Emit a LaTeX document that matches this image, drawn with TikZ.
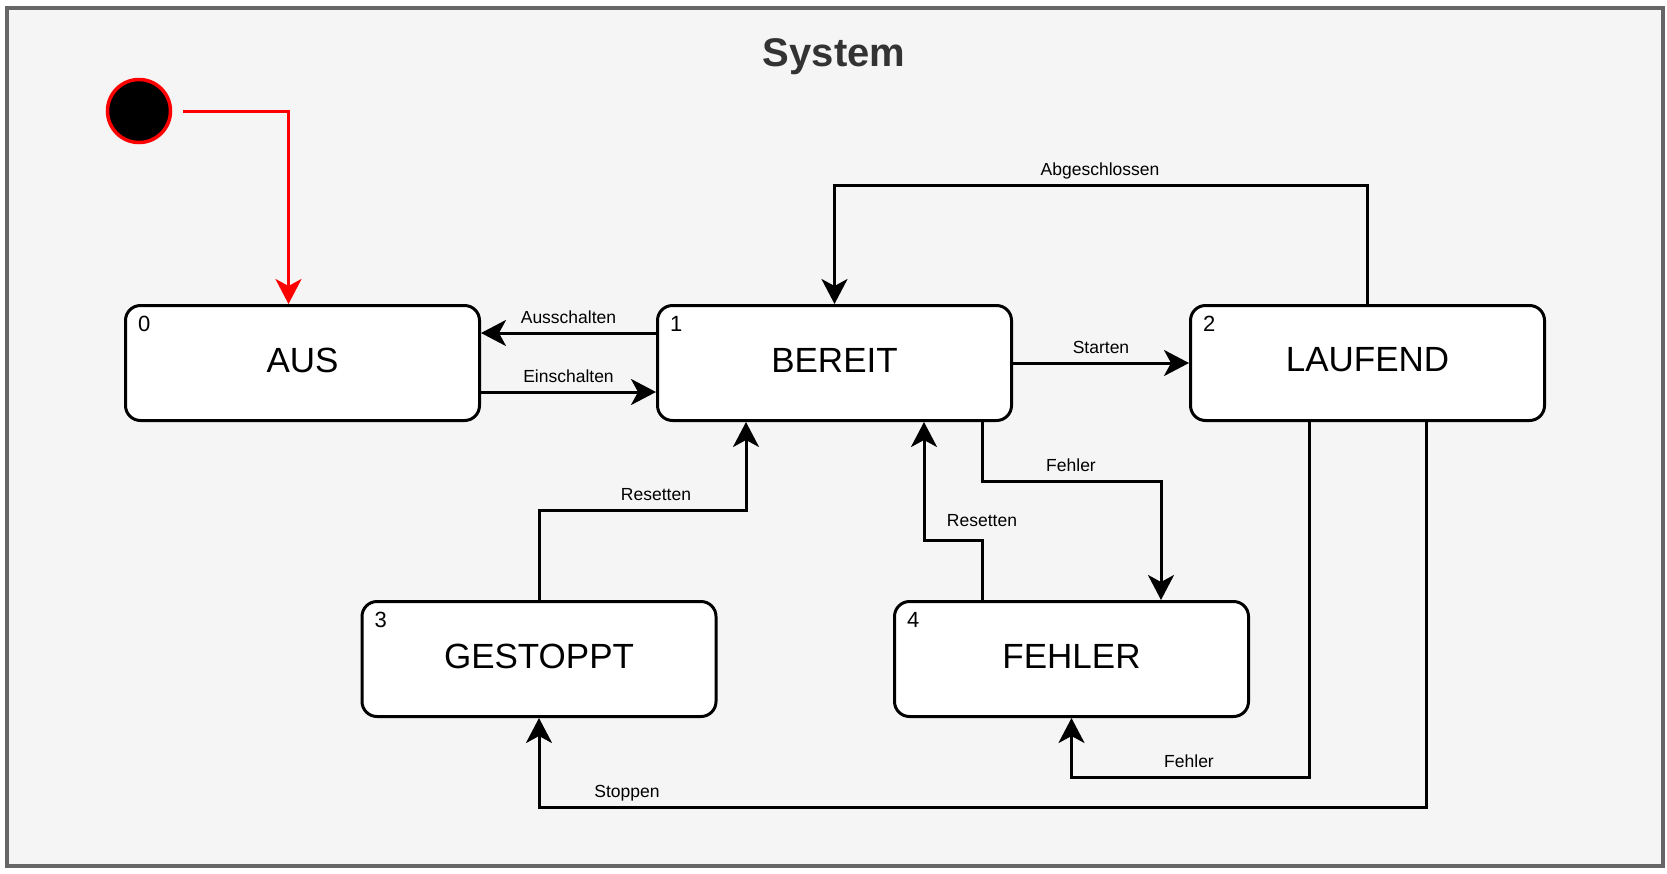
\documentclass[tikz,border=0pt]{standalone}
\usepackage{fontspec}
\setmainfont{Liberation Sans}
\usetikzlibrary{arrows.meta}
\definecolor{bgfill}{HTML}{F5F5F5}
\definecolor{framegray}{HTML}{666666}
\definecolor{titlegray}{HTML}{333333}
\tikzset{
  state/.style={draw=black, line width=3pt, fill=white, rounded corners=15pt,
    minimum width=354pt, minimum height=115pt, inner sep=0pt},
  edge/.style={line width=3pt, -{Stealth[length=25pt,width=26pt,inset=7pt]}},
  redge/.style={edge, draw=red},
  lab/.style={font=\fontsize{17.5}{20}\selectfont, inner sep=0pt, anchor=base, yshift=10pt},
  num/.style={font=\fontsize{22}{25}\selectfont, inner sep=0pt, anchor=north west},
  big/.style={font=\fontsize{35}{40}\selectfont, inner sep=0pt},
}
\begin{document}
\begin{tikzpicture}[x=1pt,y=-1pt]
\useasboundingbox (0,0) rectangle (1667,873);
\draw[framegray, line width=4pt, fill=bgfill] (7,8) rectangle (1663,865.5);
\node[font=\bfseries\fontsize{40}{48}\selectfont, text=titlegray, inner sep=0pt, anchor=base] (title) at (834,66) {System};

% initial state
\node[circle, draw=red, fill=black, line width=3.5pt, minimum size=63pt, inner sep=0pt] (init) at (139,111) {};

% states
\node[state] (aus) at (302.5,363) {};
\node[state] (bereit) at (834.5,363) {};
\node[state] (laufend) at (1367.5,363) {};
\node[state] (gestoppt) at (539,659) {};
\node[state] (fehler) at (1071.5,659) {};

\node[big] (taus) at ([yshift=3pt]aus.center) {AUS};
\node[big] (tbereit) at ([yshift=3pt]bereit.center) {BEREIT};
\node[big] (tlaufend) at ([yshift=3pt]laufend.center) {LAUFEND};
\node[big] (tgestoppt) at ([yshift=3pt]gestoppt.center) {GESTOPPT};
\node[big] (tfehler) at ([yshift=3pt]fehler.center) {FEHLER};

\node[num] (naus) at ([xshift=14pt,yshift=-12pt]aus.north west) {0};
\node[num] (nbereit) at ([xshift=14pt,yshift=-12pt]bereit.north west) {1};
\node[num] (nlaufend) at ([xshift=14pt,yshift=-12pt]laufend.north west) {2};
\node[num] (ngestoppt) at ([xshift=14pt,yshift=-12pt]gestoppt.north west) {3};
\node[num] (nfehler) at ([xshift=14pt,yshift=-12pt]fehler.north west) {4};

% initial transition
\draw[redge, shorten <=11pt] (init) -| ([xshift=-14pt]aus.north);

% transitions
\draw[edge] ([yshift=30pt]bereit.west) -- node[lab] (lausschalten) {Ausschalten} ([yshift=30pt]aus.east);
\draw[edge] ([yshift=-29pt]aus.east) -- node[lab] (leinschalten) {Einschalten} ([yshift=-29pt]bereit.west);
\draw[edge] (bereit.east) -- node[lab] (lstarten) {Starten} (laufend.west);
\draw[edge] (laufend.north) |- (1100,185) node[lab] (labgeschlossen) {Abgeschlossen} -| (bereit.north);
\draw[edge] ([xshift=147.5pt]bereit.south) |- (1071,481) node[lab] (lfehler1) {Fehler} -| ([xshift=89.5pt]fehler.north);
\draw[edge] (gestoppt.north) |- (656,510) node[lab] (lresetten1) {Resetten} -| ([xshift=-88.5pt]bereit.south);
\draw[edge] ([xshift=-89.5pt]fehler.north) -- (982,540) node[lab, yshift=4pt] (lresetten2) {Resetten} -| ([xshift=89.5pt]bereit.south);
\draw[edge] ([xshift=-58.5pt]laufend.south) |- (1189,777) node[lab] (lfehler2) {Fehler} -| (fehler.south);
\draw[edge] ([xshift=58.5pt]laufend.south) |- (627,807) node[lab] (lstoppen) {Stoppen} -| (gestoppt.south);
\end{tikzpicture}
\end{document}
